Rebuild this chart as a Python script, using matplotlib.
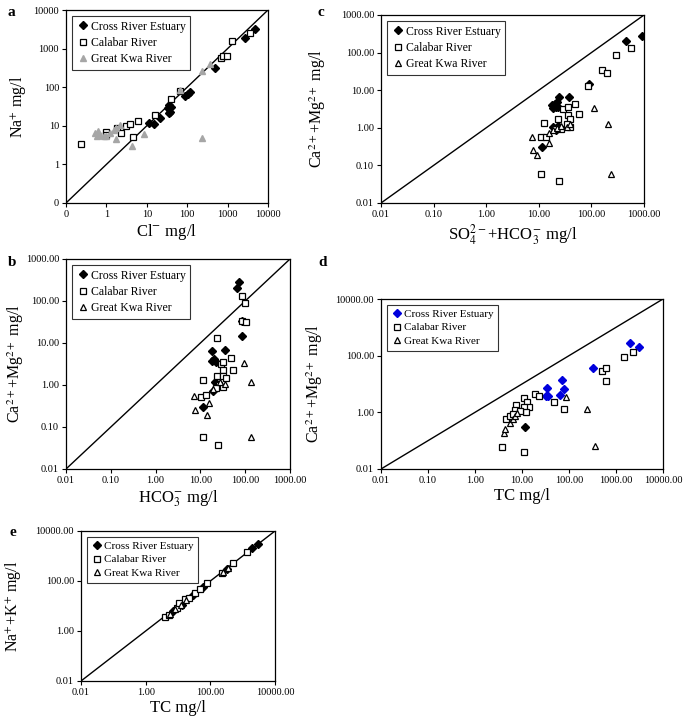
import matplotlib
matplotlib.use("Agg")
import matplotlib.pyplot as plt

plt.rcParams['font.family'] = ['Liberation Serif', 'DejaVu Serif']
plt.rcParams['mathtext.fontset'] = 'stix'

# --- panel a: Na+ vs Cl- ---
a_cre_x = [11.6, 15.4, 21, 34, 37.5, 36, 39, 36, 88, 102, 117, 500, 2760, 4700]
a_cre_y = [11.7, 11, 16, 28.6, 23.4, 35, 30, 21, 60, 67, 76, 309, 1860, 3160]
a_cal_x = [0.24, 0.99, 0.95, 1.8, 2.3, 3.1, 3.9, 6.0, 4.5, 16.3, 39, 66, 680, 790, 990, 1300, 3550]
a_cal_y = [3.4, 6.9, 5.8, 8.7, 6.7, 10, 11.2, 13.7, 5.1, 18.5, 49, 82, 560, 660, 650, 1610, 2500]
a_gkr_x = [0.51, 0.62, 0.58, 0.70, 0.87, 1.0, 1.24, 1.5, 1.75, 2.2, 1.7, 4.25, 8.6, 66, 235, 365, 235]
a_gkr_y = [6.5, 7.2, 5.3, 5.8, 5.3, 5.5, 6.4, 7.9, 8.8, 10.4, 4.5, 3.0, 6.1, 85, 263, 390, 4.8]

# --- panel c: Ca+Mg vs SO4+HCO3 ---
c_cre_x = [11.4, 17.9, 20.4, 21.3, 23.6, 22.5, 24.3, 37, 19.0, 90, 460, 905, 19, 21, 23]
c_cre_y = [0.31, 4.0, 4.3, 3.6, 3.5, 4.9, 6.4, 6.7, 3.3, 14.5, 204, 277, 1.06, 0.9, 1.1]
c_cal_x = [10.9, 13.6, 12.7, 11.1, 24.3, 23.6, 29.4, 35.5, 35.5, 39, 49, 59, 87, 157, 195, 296, 560,
           20.4, 26, 39, 34]
c_cal_y = [0.57, 0.57, 1.35, 0.058, 0.038, 1.7, 3.07, 3.5, 2.2, 1.7, 4.4, 2.3, 12.8, 35.5, 29, 89, 134,
           0.95, 0.95, 1.05, 1.3]
c_gkr_x = [7.4, 7.6, 9.2, 15.7, 110, 204, 233, 15.8, 18.5, 22, 27, 34, 40]
c_gkr_y = [0.57, 0.26, 0.19, 0.40, 3.4, 1.25, 0.059, 0.73, 0.86, 0.98, 1.1, 1.05, 1.25]

# --- panel b: Ca+Mg vs HCO3 ---
b_cre_x = [74, 65, 86, 11.7, 18, 35.5, 18, 20, 22, 21.5, 19.5, 84]
b_cre_y = [279, 206, 15, 0.30, 6.5, 6.7, 3.8, 4.1, 3.6, 1.15, 0.72, 34]
b_cal_x = [86, 99, 84, 102, 24, 29, 32.5, 47.5, 32.5, 54, 11.3, 24.4, 11.7, 10.2, 13.4, 23, 32.5, 38,
           26.5, 22.5, 32.5]
b_cal_y = [135, 90, 34, 31, 13.2, 3.2, 3.6, 4.4, 2.3, 2.3, 0.059, 0.037, 1.28, 0.53, 0.58, 1.66, 1.66, 1.5,
           1.0, 0.84, 0.89]
b_gkr_x = [96, 135, 135, 7.2, 7.7, 15.9, 13.9, 35.5, 19, 27]
b_gkr_y = [3.4, 1.2, 0.059, 0.55, 0.26, 0.38, 0.19, 1.07, 0.8, 1.2]

# --- panel d: Ca+Mg vs TC ---
d_cre_x = [34, 33, 35, 63, 72, 77, 324, 2020, 3140]
d_cre_y = [7.2, 3.7, 3.7, 4.2, 14, 6.6, 37, 280, 202]
d_odd_x = [11.8]
d_odd_y = [0.31]
d_cal_x = [3.75, 11.2, 4.6, 11, 18.6, 22.6, 49, 80, 13, 14.1, 7.6, 7, 11, 12, 9.2, 500, 610, 600, 1450,
           2260, 5.5, 6.5]
d_cal_y = [0.061, 0.041, 0.60, 3.2, 4.6, 3.7, 2.3, 1.3, 2.4, 1.6, 1.76, 1.25, 1.6, 1.0, 1.08, 29.5, 37, 13,
           89, 134, 0.75, 0.85]
d_gkr_x = [4.1, 4.3, 5.5, 6.4, 7.2, 7.8, 85, 240, 355]
d_gkr_y = [0.19, 0.26, 0.42, 0.60, 0.72, 0.94, 3.5, 1.3, 0.063]

# --- panel e: Na+K vs TC ---
e_cre_x = [6.9, 13, 30, 61, 320, 1900, 3030]
e_cre_y = [6.4, 10.8, 28, 58, 300, 2040, 3020]
e_cal_x = [4.0, 5.1, 9.2, 11, 16.6, 22.5, 33.7, 48, 78, 224, 510, 1320]
e_cal_y = [3.5, 4.3, 8.0, 12.6, 18.3, 20, 32, 46, 80, 214, 540, 1480]
e_gkr_x = [5.5, 8, 12, 18, 250, 350]
e_gkr_y = [5.0, 7.5, 11, 17, 230, 340]

ticks_a = [0.1, 1, 10, 100, 1000, 10000]
labels_a = ["0", "1", "10", "100", "1000", "10000"]
ticks_5 = [0.01, 0.1, 1, 10, 100, 1000]
ticks_6 = [0.01, 0.1, 1, 10, 100, 1000, 10000]
ticks_6b = [0.01, 1, 100, 10000]

ylab_camg = "Ca$^{2+}$+Mg$^{2+}$ mg/l"

fig = plt.figure(figsize=(6.85, 7.18), dpi=100)


def fmt2(v):
    return "%.2f" % v


def setup(ax, lim, xt, yt, xl, yl, ylx, xlabels=None, ylabels=None):
    ax.set_xscale('log')
    ax.set_yscale('log')
    ax.set_xlim(lim)
    ax.set_ylim(lim)
    ax.plot(lim, lim, color='black', lw=1.0, zorder=1)
    ax.set_xticks(xt)
    ax.set_xticklabels(xlabels if xlabels else [fmt2(v) for v in xt])
    ax.set_yticks(yt)
    ax.set_yticklabels(ylabels if ylabels else [fmt2(v) for v in yt])
    ax.minorticks_off()
    ax.tick_params(direction='out', length=3, width=0.8, labelsize=7.4, pad=2)
    ax.set_xlabel(xl, fontsize=12, labelpad=2)
    ax.set_ylabel(yl, fontsize=11.5)
    ax.yaxis.set_label_coords(ylx, 0.5)
    for s in ax.spines.values():
        s.set_linewidth(0.9)


def legend(ax, fs=8.5):
    leg = ax.legend(loc='upper left', fontsize=fs, frameon=True, fancybox=False,
                    edgecolor='black', handletextpad=0.2, handlelength=1.0,
                    borderpad=0.4, labelspacing=0.35, borderaxespad=0.5)
    leg.get_frame().set_linewidth(0.8)


ms = 5

# panel a
ax = fig.add_axes([66 / 685, 1 - 203 / 718, 202 / 685, 193 / 718])
ax.plot(a_cre_x, a_cre_y, 'D', color='black', ms=ms - 0.5, label='Cross River Estuary', zorder=3)
ax.plot(a_cal_x, a_cal_y, 's', mfc='white', mec='black', mew=0.9, ms=ms, label='Calabar River', zorder=3)
ax.plot(a_gkr_x, a_gkr_y, '^', color='#a6a6a6', ms=ms, label='Great Kwa River', zorder=3)
setup(ax, [0.1, 10000], ticks_a, ticks_a, "Cl$^{-}$ mg/l", "Na$^{+}$ mg/l", -0.19, labels_a, labels_a)
legend(ax)
fig.text(8 / 685, 1 - 12 / 718, 'a', fontsize=11, fontweight='bold', va='center')

# panel c
ax = fig.add_axes([381 / 685, 1 - 203 / 718, 263 / 685, 188 / 718])
ax.plot(c_cre_x, c_cre_y, 'D', color='black', ms=ms - 0.5, label='Cross River Estuary', zorder=3)
ax.plot(c_cal_x, c_cal_y, 's', mfc='white', mec='black', mew=0.9, ms=ms, label='Calabar River', zorder=3)
ax.plot(c_gkr_x, c_gkr_y, '^', mfc='white', mec='black', mew=0.9, ms=ms, label='Great Kwa River', zorder=3)
setup(ax, [0.01, 1000], ticks_5, ticks_5, "SO$_4^{2-}$+HCO$_3^{-}$ mg/l", ylab_camg, -0.2)
legend(ax)
fig.text(318 / 685, 1 - 12 / 718, 'c', fontsize=11, fontweight='bold', va='center')

# panel b
ax = fig.add_axes([66 / 685, 1 - 469 / 718, 224 / 685, 210 / 718])
ax.plot(b_cre_x, b_cre_y, 'D', color='black', ms=ms - 0.5, label='Cross River Estuary', zorder=3)
ax.plot(b_cal_x, b_cal_y, 's', mfc='white', mec='black', mew=0.9, ms=ms, label='Calabar River', zorder=3)
ax.plot(b_gkr_x, b_gkr_y, '^', mfc='white', mec='black', mew=0.9, ms=ms, label='Great Kwa River', zorder=3)
setup(ax, [0.01, 1000], ticks_5, ticks_5, "HCO$_3^{-}$ mg/l", ylab_camg, -0.18)
legend(ax)
fig.text(8 / 685, 1 - 263 / 718, 'b', fontsize=11, fontweight='bold', va='center')

# panel d
ax = fig.add_axes([381 / 685, 1 - 469 / 718, 282 / 685, 170 / 718])
ax.plot(d_cre_x, d_cre_y, 'D', color='#0000dd', ms=ms - 0.5, label='Cross River Estuary', zorder=3)
ax.plot(d_odd_x, d_odd_y, 'D', color='black', ms=ms - 0.5, zorder=3)
ax.plot(d_cal_x, d_cal_y, 's', mfc='white', mec='black', mew=0.9, ms=ms, label='Calabar River', zorder=3)
ax.plot(d_gkr_x, d_gkr_y, '^', mfc='white', mec='black', mew=0.9, ms=ms, label='Great Kwa River', zorder=3)
setup(ax, [0.01, 10000], ticks_6, ticks_6b, "TC mg/l", ylab_camg, -0.2)
legend(ax, fs=8)
fig.text(318 / 685, 1 - 263 / 718, 'd', fontsize=11, fontweight='bold', va='center')

# panel e
ax = fig.add_axes([81 / 685, 1 - 681 / 718, 194 / 685, 150 / 718])
ax.plot(e_cre_x, e_cre_y, 'D', color='black', ms=ms - 0.5, label='Cross River Estuary', zorder=3)
ax.plot(e_cal_x, e_cal_y, 's', mfc='white', mec='black', mew=0.9, ms=ms, label='Calabar River', zorder=3)
ax.plot(e_gkr_x, e_gkr_y, '^', mfc='white', mec='black', mew=0.9, ms=ms, label='Great Kwa River', zorder=3)
setup(ax, [0.01, 10000], ticks_6b, ticks_6b, "TC mg/l", "Na$^{+}$+K$^{+}$ mg/l", -0.3)
legend(ax, fs=8)
fig.text(10 / 685, 1 - 533 / 718, 'e', fontsize=11, fontweight='bold', va='center')

fig.savefig('out.png', dpi=100)
